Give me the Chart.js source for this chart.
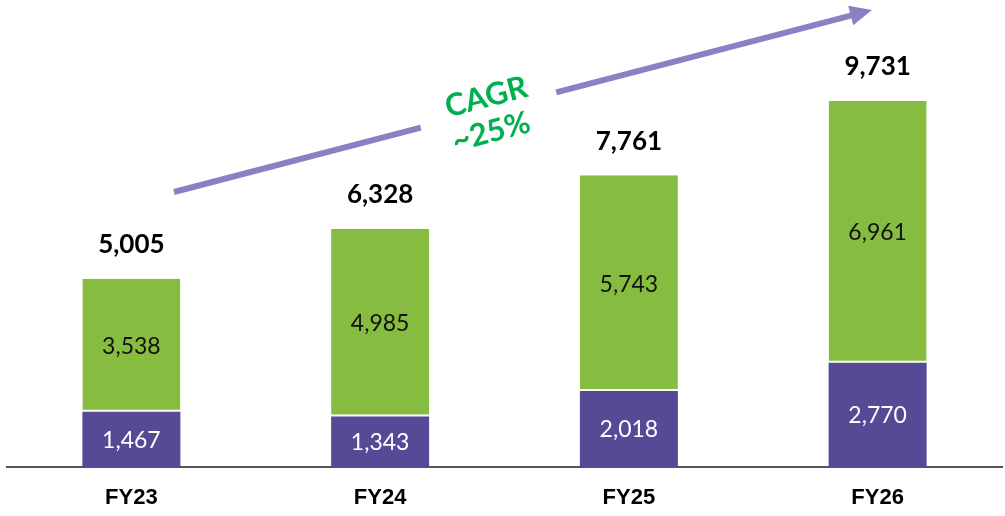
<!DOCTYPE html>
<html>
<head>
<meta charset="utf-8">
<script src="https://cdn.jsdelivr.net/npm/chart.js@4"></script>
<style>
  html, body { margin: 0; padding: 0; background: #fff; }
  #wrap { width: 1005px; height: 516px; position: relative; }
</style>
</head>
<body>
<div id="wrap"><canvas id="revChart"></canvas></div>
<script>
const years = ["FY23", "FY24", "FY25", "FY26"];
const baseValues = [1467, 1343, 2018, 2770];
const growthValues = [3538, 4985, 5743, 6961];
const totals = [5005, 6328, 7761, 9731];

const fmt = (v) => v.toLocaleString("en-US");

// labels inside segments + totals above the bars
const labelPlugin = {
    id: "labels",
    afterDatasetsDraw(chart) {
        const ctx = chart.ctx;
        ctx.save();
        ctx.textAlign = "center";
        ctx.textBaseline = "middle";
        ctx.font = "23px Lato";
        chart.data.datasets.forEach((ds, i) => {
            chart.getDatasetMeta(i).data.forEach((bar, j) => {
                const mid = (bar.y + bar.base) / 2;
                ctx.fillStyle = i === 0 ? "#ffffff" : "#111111";
                ctx.fillText(fmt(ds.data[j]), bar.x, mid + 1);
            });
        });
        const top = chart.getDatasetMeta(1).data;
        ctx.fillStyle = "#000";
        ctx.font = "bold 26px Lato";
        ctx.textBaseline = "bottom";
        top.forEach((bar, j) => {
            ctx.fillText(fmt(totals[j]), bar.x, bar.y - 21);
        });
        ctx.restore();
    }
};

// CAGR arrow
const arrowPlugin = {
    id: "cagrArrow",
    afterDraw(chart) {
        const ctx = chart.ctx;
        const x0 = 174, y0 = 192, x1 = 872, y1 = 10;
        const ang = Math.atan2(y1 - y0, x1 - x0);
        const len = Math.hypot(x1 - x0, y1 - y0);
        ctx.save();
        ctx.translate(x0, y0);
        ctx.rotate(ang);
        ctx.strokeStyle = "#8c80c4";
        ctx.fillStyle = "#8c80c4";
        ctx.lineWidth = 6;
        ctx.beginPath();
        ctx.moveTo(0, 0);
        ctx.lineTo(255, 0);
        ctx.moveTo(395, 0);
        ctx.lineTo(len - 18, 0);
        ctx.stroke();
        ctx.beginPath();
        ctx.moveTo(len, 0);
        ctx.lineTo(len - 22, -10);
        ctx.lineTo(len - 22, 10);
        ctx.closePath();
        ctx.fill();
        // text
        ctx.fillStyle = "#00b050";
        ctx.font = "bold 31px Lato";
        ctx.textAlign = "center";
        ctx.textBaseline = "middle";
        ctx.fillText("CAGR", 326, -13);
        ctx.fillText("~25%", 322, 22);
        ctx.restore();
    }
};

new Chart(document.getElementById("revChart"), {
    type: "bar",
    data: {
        labels: years,
        datasets: [
            {
                data: baseValues,
                backgroundColor: "#544a96",
                borderWidth: 0,
            },
            {
                data: growthValues,
                backgroundColor: "#86bc40",
                borderColor: "#ffffff",
                borderWidth: { bottom: 2, top: 0, left: 0, right: 0 },
                borderSkipped: false,
            },
        ],
    },
    options: {
        responsive: true,
        maintainAspectRatio: false,
        animation: false,
        layout: { padding: { left: 7, right: 3, top: 0, bottom: 0 } },
        plugins: {
            legend: { display: false },
            tooltip: { enabled: false },
        },
        datasets: {
            bar: { categoryPercentage: 1, barPercentage: 0.394 },
        },
        scales: {
            x: {
                stacked: true,
                grid: { display: false, drawTicks: false },
                border: { display: true, color: "#555555", width: 2 },
                ticks: {
                    color: "#000",
                    padding: 18,
                    font: { family: "Liberation Sans", size: 22, weight: "bold" },
                },
                afterFit(scale) {
                    scale.height = 49;
                },
            },
            y: {
                stacked: true,
                display: false,
                min: 0,
                max: 12420,
            },
        },
    },
    plugins: [labelPlugin, arrowPlugin],
});
</script>
</body>
</html>
